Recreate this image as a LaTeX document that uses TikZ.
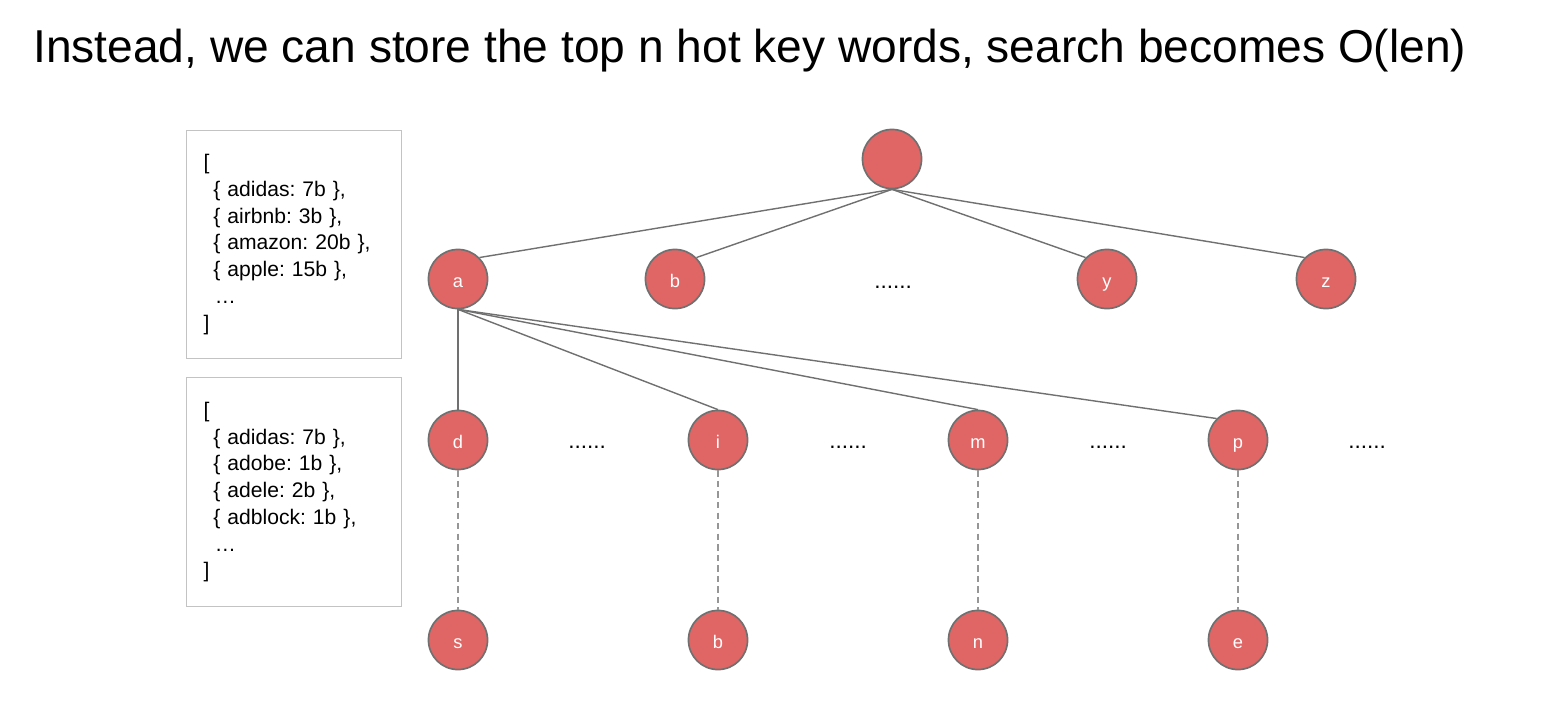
\documentclass[tikz,border=0pt]{standalone}
\usepackage{fontspec}
\setmainfont{Liberation Sans}
\usepackage{xcolor}

\definecolor{nodered}{RGB}{224,102,102}
\definecolor{edgegray}{RGB}{112,112,112}
\definecolor{dashgray}{RGB}{150,150,150}
\definecolor{boxgray}{RGB}{195,195,195}

\tikzset{
  trie/.style={circle, fill=nodered, draw=edgegray, line width=1.2pt,
    minimum size=42pt, inner sep=0pt, text=white,
    text height=12pt, text depth=0pt,
    font=\fontsize{13pt}{15pt}\selectfont},
  edge/.style={draw=edgegray, line width=1pt},
  more/.style={draw=dashgray, line width=1.2pt, dash pattern=on 4.5pt off 3pt},
  list/.style={draw=boxgray, line width=0.9pt, anchor=north west,
    minimum width=153pt, minimum height=162pt, inner xsep=12pt,
    text width=129pt, align=left,
    font=\fontsize{15pt}{19pt}\selectfont\frenchspacing},
  gap/.style={anchor=base, inner sep=0pt, font=\fontsize{16pt}{18pt}\selectfont}
}

\begin{document}
\begin{tikzpicture}[x=0.025cm,y=-0.025cm]
  \useasboundingbox (0,0) rectangle (1544,704);

  % Title
  \node[anchor=base west, inner sep=0pt, font=\fontsize{32.8pt}{36pt}\selectfont]
    (title) at (33,62) {Instead, we can store the top n hot key words, search becomes O(len)};

  % Stored lists
  \node[list] (lista) at (186,130) {[\\
    \hspace{7pt}\{ adidas: 7b \},\\
    \hspace{7pt}\{ airbnb: 3b \},\\
    \hspace{7pt}\{ amazon: 20b \},\\
    \hspace{7pt}\{ apple: 15b \},\\
    \hspace{8pt}…\\
    ]};
  \node[list, minimum height=163pt] (listad) at (186,377) {[\\
    \hspace{7pt}\{ adidas: 7b \},\\
    \hspace{7pt}\{ adobe: 1b \},\\
    \hspace{7pt}\{ adele: 2b \},\\
    \hspace{7pt}\{ adblock: 1b \},\\
    \hspace{8pt}…\\
    ]};

  % Root and first level
  \node[trie] (root) at (892,159) {};
  \node[trie] (a) at (458,279) {a};
  \node[trie] (b) at (675,279) {b};
  \node[gap] (dots0) at (893,288) {......};
  \node[trie] (y) at (1107,279) {y};
  \node[trie] (z) at (1326,279) {z};

  % Second level
  \node[trie] (ad) at (458,440) {d};
  \node[gap] (dots1) at (587,448) {......};
  \node[trie] (ai) at (718,440) {i};
  \node[gap] (dots2) at (848,448) {......};
  \node[trie] (am) at (978,440) {m};
  \node[gap] (dots3) at (1108,448) {......};
  \node[trie] (ap) at (1238,440) {p};
  \node[gap] (dots4) at (1367,448) {......};

  % Deeper level
  \node[trie] (ads) at (458,640) {s};
  \node[trie] (aib) at (718,640) {b};
  \node[trie] (amn) at (978,640) {n};
  \node[trie] (ape) at (1238,640) {e};

  % Edges
  \draw[edge] (root.south) -- (a.north east);
  \draw[edge] (root.south) -- (b.north east);
  \draw[edge] (root.south) -- (y.north west);
  \draw[edge] (root.south) -- (z.north west);
  \draw[edge] (a.south) -- (ad.north);
  \draw[edge] (a.south) -- (ai.north);
  \draw[edge] (a.south) -- (am.north);
  \draw[edge] (a.south) -- (ap.north west);

  % Paths down to the words
  \draw[more] (ad.south) -- (ads.north);
  \draw[more] (ai.south) -- (aib.north);
  \draw[more] (am.south) -- (amn.north);
  \draw[more] (ap.south) -- (ape.north);
\end{tikzpicture}
\end{document}
